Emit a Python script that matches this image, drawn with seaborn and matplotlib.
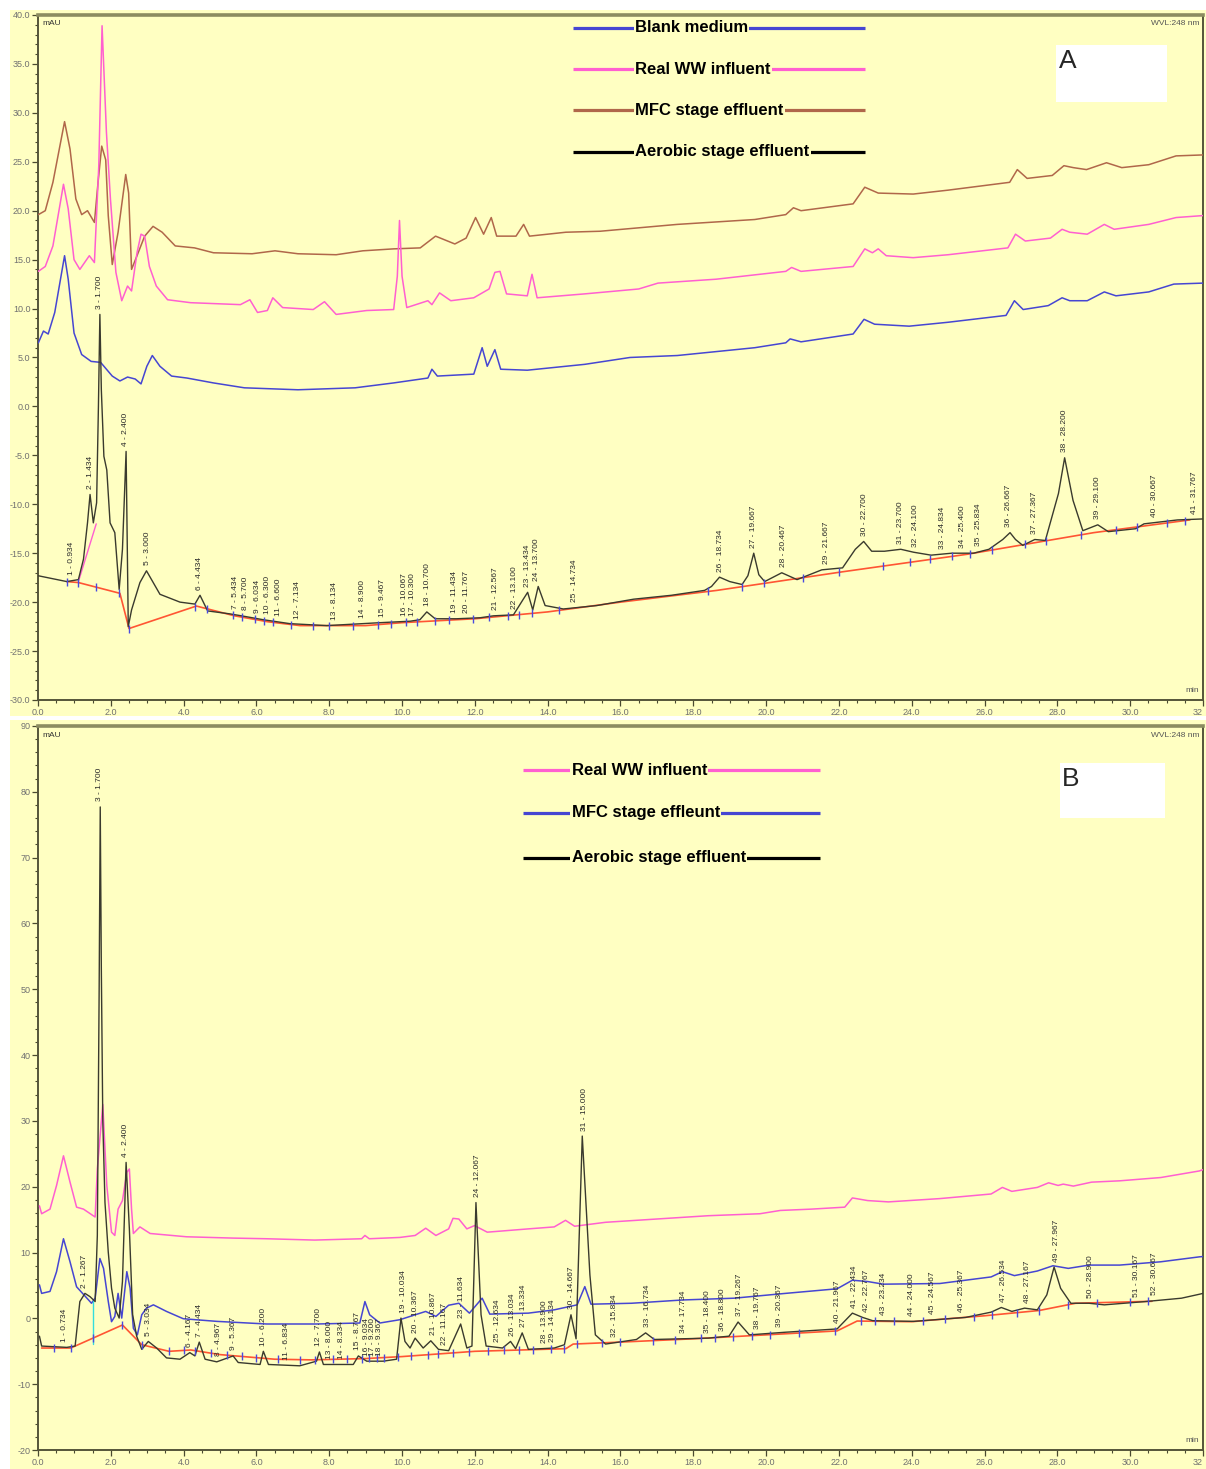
import numpy as np
import pandas as pd
import matplotlib
matplotlib.use("Agg")
import matplotlib.pyplot as plt
from matplotlib.patches import Rectangle
from matplotlib.ticker import MultipleLocator
import seaborn as sns

sns.set_theme(style="ticks")
plt.rcParams['font.family'] = ['Liberation Sans', 'DejaVu Sans']

YELLOW = "#FFFFC2"
BLUE = "#4646D2"
PINK = "#FF5FD0"
BROWN = "#B0674A"
BLACK = "#3A3A2E"
RED = "#FF5533"

# ---------------- panel A : (time min, mAU) ----------------
a_blank = [(0.01, 6.5), (0.15, 7.7), (0.28, 7.4), (0.46, 9.6), (0.73, 15.4), (0.83, 13.0), (0.99, 7.5),
           (1.2, 5.3), (1.46, 4.6), (1.72, 4.5), (1.88, 3.8), (2.04, 3.1), (2.25, 2.6), (2.46, 3.0),
           (2.67, 2.8), (2.83, 2.3), (2.99, 4.1), (3.14, 5.2), (3.35, 4.1), (3.67, 3.1), (4.09, 2.9),
           (4.82, 2.4), (5.67, 1.9), (7.14, 1.7), (8.71, 1.9), (9.77, 2.4), (10.71, 2.9), (10.82, 3.8),
           (10.97, 3.1), (11.97, 3.3), (12.2, 6.0), (12.34, 4.1), (12.55, 5.8), (12.71, 3.8), (13.44, 3.7),
           (15.02, 4.3), (16.26, 5.0), (17.56, 5.2), (19.69, 6.0), (20.54, 6.5), (20.66, 6.9), (20.96, 6.6),
           (22.39, 7.4), (22.69, 8.9), (22.98, 8.4), (23.93, 8.2), (25.0, 8.6), (26.59, 9.3), (26.82, 10.8),
           (27.06, 9.9), (27.75, 10.3), (28.13, 11.1), (28.34, 10.8), (28.82, 10.8), (29.29, 11.7),
           (29.61, 11.3), (30.51, 11.7), (31.2, 12.5), (32.0, 12.6)]

a_influent = [(0.01, 13.8), (0.2, 14.3), (0.41, 16.4), (0.7, 22.7), (0.83, 20.2), (0.99, 15.0), (1.15, 14.0),
              (1.41, 15.4), (1.55, 14.7), (1.67, 24.6), (1.76, 38.9), (1.88, 28.0), (1.99, 21.2), (2.14, 13.7),
              (2.3, 10.8), (2.46, 12.3), (2.57, 11.8), (2.72, 15.7), (2.83, 17.6), (2.93, 17.4), (3.06, 14.3),
              (3.25, 12.3), (3.56, 10.9), (4.19, 10.6), (5.56, 10.4), (5.82, 10.9), (6.03, 9.6), (6.3, 9.8),
              (6.45, 11.1), (6.72, 10.1), (7.56, 9.9), (7.87, 10.7), (8.19, 9.4), (9.03, 9.8), (9.77, 9.9),
              (9.87, 13.3), (9.93, 19.0), (10.0, 13.3), (10.13, 10.1), (10.71, 10.8), (10.82, 10.4),
              (11.03, 11.6), (11.34, 10.8), (11.97, 11.1), (12.39, 12.0), (12.55, 13.7), (12.69, 13.8),
              (12.87, 11.5), (13.44, 11.3), (13.57, 13.5), (13.71, 11.1), (15.02, 11.5), (16.5, 12.0),
              (17.03, 12.6), (18.63, 13.0), (20.54, 13.8), (20.7, 14.2), (20.96, 13.8), (22.39, 14.3),
              (22.71, 16.1), (22.92, 15.7), (23.08, 16.1), (23.3, 15.4), (24.04, 15.2), (25.0, 15.5),
              (26.64, 16.2), (26.85, 17.6), (27.12, 16.9), (27.81, 17.2), (28.13, 18.1), (28.34, 17.8),
              (28.82, 17.6), (29.29, 18.6), (29.56, 18.1), (30.51, 18.6), (31.26, 19.3), (32.0, 19.5)]

a_mfc = [(0.01, 19.6), (0.2, 20.0), (0.41, 22.9), (0.73, 29.1), (0.88, 26.3), (1.04, 21.2), (1.2, 19.6),
         (1.36, 20.0), (1.55, 18.8), (1.65, 22.9), (1.75, 26.6), (1.86, 25.2), (1.93, 19.5), (2.04, 14.5),
         (2.2, 17.8), (2.41, 23.7), (2.49, 21.8), (2.57, 14.0), (2.72, 15.4), (2.93, 17.4), (3.16, 18.4),
         (3.41, 17.8), (3.77, 16.4), (4.3, 16.2), (4.82, 15.7), (5.88, 15.6), (6.51, 15.9), (7.14, 15.6),
         (8.19, 15.5), (8.92, 15.9), (9.77, 16.1), (10.5, 16.2), (10.92, 17.4), (11.45, 16.6), (11.76, 17.2),
         (12.02, 19.3), (12.24, 17.6), (12.45, 19.3), (12.6, 17.4), (13.13, 17.4), (13.34, 18.6), (13.5, 17.4),
         (14.5, 17.8), (15.44, 17.9), (17.56, 18.6), (19.69, 19.1), (20.54, 19.6), (20.75, 20.3), (20.96, 20.0),
         (22.39, 20.7), (22.71, 22.4), (23.08, 21.8), (24.04, 21.7), (25.0, 22.1), (26.69, 22.9), (26.9, 24.2),
         (27.17, 23.3), (27.86, 23.6), (28.18, 24.6), (28.44, 24.4), (28.8, 24.2), (29.35, 24.9), (29.77, 24.4),
         (30.51, 24.7), (31.26, 25.6), (32.0, 25.7)]

a_aerobic = [(0.0, -17.3), (0.79, -17.9), (1.11, -17.7), (1.25, -15.6), (1.36, -11.9), (1.43, -9.0), (1.52, -11.9),
             (1.61, -9.85), (1.66, 0.0), (1.7, 9.4), (1.74, 1.7), (1.81, -5.1), (1.89, -6.5), (1.98, -11.9),
             (2.11, -12.9), (2.23, -18.7), (2.32, -14.6), (2.42, -4.6), (2.48, -22.5), (2.57, -20.8), (2.8, -18.0),
             (2.98, -16.8), (3.35, -19.2), (3.9, -20.0), (4.31, -20.2), (4.45, -19.3), (4.66, -20.9), (5.27, -21.2),
             (5.59, -21.4), (6.19, -21.8), (6.92, -22.2), (7.93, -22.4), (9.4, -22.1), (10.22, -21.95),
             (10.49, -21.8), (10.68, -21.0), (10.91, -21.7), (11.5, -21.7), (12.14, -21.6), (12.51, -21.4),
             (13.06, -21.3), (13.33, -19.7), (13.45, -19.0), (13.59, -20.8), (13.74, -18.4), (13.93, -20.35),
             (14.43, -20.7), (15.35, -20.35), (16.36, -19.7), (17.4, -19.3), (18.31, -18.8), (18.5, -18.4),
             (18.72, -17.45), (19.0, -17.9), (19.34, -18.2), (19.5, -17.3), (19.66, -15.0), (19.8, -17.2),
             (19.96, -17.9), (20.43, -17.0), (20.85, -17.7), (21.53, -16.7), (22.1, -16.5), (22.45, -14.6),
             (22.68, -13.8), (22.9, -14.8), (23.25, -14.8), (23.7, -14.6), (24.05, -14.9), (24.53, -15.2),
             (25.1, -15.0), (25.7, -15.0), (26.12, -14.6), (26.5, -13.6), (26.7, -12.9), (26.85, -13.6),
             (27.05, -14.2), (27.38, -13.6), (27.67, -13.7), (28.03, -8.9), (28.2, -5.25), (28.43, -9.6),
             (28.7, -12.7), (29.11, -12.1), (29.4, -12.8), (30.15, -12.5), (30.38, -12.0), (31.3, -11.6),
             (32.0, -11.5)]

a_baseline = [(0.79, -17.9), (1.11, -18.0), (2.25, -19.1), (2.5, -22.7), (4.35, -20.4), (5.4, -21.4),
              (6.3, -22.0), (7.2, -22.4), (9.0, -22.4), (10.0, -22.1), (12.0, -21.7), (14.0, -21.0),
              (16.0, -20.0), (18.65, -18.8), (22.1, -16.9), (25.54, -15.1), (29.0, -12.9), (31.64, -11.6)]
a_skim = [(1.11, -17.9), (1.6, -12.0)]

a_peak_times = [0.934, 1.434, 1.700, 2.400, 3.000, 4.434, 5.434, 5.700, 6.034, 6.300, 6.600, 7.134, 8.134,
                8.900, 9.467, 10.067, 10.300, 10.700, 11.434, 11.767, 12.567, 13.100, 13.434, 13.700, 14.734,
                18.734, 19.667, 20.467, 21.667, 22.700, 23.700, 24.100, 24.834, 25.400, 25.834, 26.667,
                27.367, 28.200, 29.100, 30.667, 31.767]
a_marks = [0.79, 1.11, 1.6, 2.23, 2.5, 4.3, 4.65, 5.35, 5.6, 5.95, 6.2, 6.45, 6.95, 7.55, 8.0, 8.65, 9.35,
           9.7, 10.1, 10.4, 10.9, 11.3, 11.95, 12.4, 12.9, 13.2, 13.58, 14.3, 18.4, 19.35, 19.95, 21.0,
           22.0, 23.2, 23.95, 24.5, 25.1, 25.6, 26.2, 27.1, 27.7, 28.65, 29.6, 30.2, 31.0, 31.5]

# ---------------- panel B ----------------
b_influent = [(0.04, 17.1), (0.1, 15.9), (0.33, 16.6), (0.51, 20.2), (0.7, 24.7), (0.88, 20.7), (1.06, 16.9),
              (1.25, 16.6), (1.57, 15.4), (1.63, 22.7), (1.78, 32.5), (1.89, 20.2), (2.02, 13.1), (2.11, 12.6),
              (2.2, 16.6), (2.32, 17.9), (2.44, 22.2), (2.51, 22.7), (2.57, 16.6), (2.62, 12.9), (2.8, 13.9),
              (3.08, 12.9), (4.08, 12.4), (5.36, 12.2), (6.28, 12.1), (7.6, 11.9), (8.89, 12.1), (8.98, 12.6),
              (9.1, 12.1), (9.94, 12.3), (10.36, 12.6), (10.65, 13.7), (10.93, 12.6), (11.28, 13.6), (11.4, 15.2),
              (11.56, 15.1), (11.78, 13.6), (11.99, 14.1), (12.34, 13.1), (13.47, 13.6), (14.18, 13.9),
              (14.49, 14.9), (14.74, 14.0), (15.59, 14.6), (17.0, 15.1), (18.41, 15.6), (19.83, 15.9),
              (20.39, 16.4), (21.24, 16.6), (22.16, 16.9), (22.37, 18.3), (22.79, 17.9), (23.36, 17.7),
              (24.77, 18.2), (26.18, 18.9), (26.49, 19.9), (26.75, 19.3), (27.45, 19.9), (27.76, 20.6),
              (28.02, 20.2), (28.16, 20.4), (28.44, 20.1), (28.94, 20.7), (29.71, 20.9), (30.84, 21.4),
              (31.9, 22.4), (32.0, 22.6)]

b_mfc = [(0.04, 5.1), (0.1, 3.8), (0.33, 4.1), (0.51, 7.1), (0.7, 12.1), (0.88, 8.6), (1.06, 4.8), (1.34, 3.1),
         (1.47, 2.3), (1.57, 3.1), (1.7, 9.1), (1.8, 7.6), (1.93, 2.6), (2.02, -0.5), (2.11, 0.3), (2.2, 3.8),
         (2.3, 0.05), (2.44, 7.1), (2.53, 4.6), (2.62, -1.5), (2.73, -2.5), (2.85, 0.55), (2.98, 1.56),
         (3.17, 2.06), (3.53, 1.06), (3.99, -0.05), (4.91, -0.45), (6.28, -0.85), (7.65, -0.85), (8.84, -0.7),
         (8.98, 2.56), (9.11, 0.55), (9.39, -0.7), (9.94, -0.2), (10.36, 0.55), (10.65, 1.06), (10.93, 0.3),
         (11.28, 2.0), (11.56, 2.3), (11.85, 0.8), (12.2, 3.07), (12.41, 0.65), (13.47, 0.8), (14.18, 1.3),
         (14.81, 2.06), (15.02, 4.83), (15.19, 2.16), (16.3, 2.3), (17.71, 2.8), (19.12, 3.07), (20.53, 3.8),
         (21.95, 4.5), (22.37, 5.8), (22.79, 5.6), (23.22, 5.2), (24.77, 5.3), (26.18, 6.3), (26.49, 7.1),
         (26.82, 6.5), (27.45, 7.2), (27.88, 8.0), (28.3, 7.6), (28.87, 8.1), (29.71, 8.1), (30.84, 8.6),
         (31.9, 9.35), (32.0, 9.4)]

b_aerobic = [(0.04, -2.7), (0.1, -4.2), (0.79, -4.4), (1.02, -4.2), (1.15, 2.56), (1.29, 3.8), (1.43, 3.3),
             (1.57, 2.56), (1.63, 12.6), (1.68, 50.0), (1.71, 77.7), (1.74, 53.0), (1.78, 30.0), (1.84, 17.6),
             (1.93, 10.1), (2.02, 4.6), (2.11, 1.56), (2.23, 0.05), (2.32, 5.6), (2.42, 23.7), (2.51, 13.6),
             (2.6, 0.55), (2.71, -2.7), (2.85, -4.7), (3.03, -3.5), (3.26, -4.5), (3.53, -6.0), (3.9, -6.2),
             (4.17, -5.2), (4.31, -5.7), (4.43, -3.6), (4.59, -6.2), (4.91, -6.6), (5.36, -5.7), (5.5, -6.7),
             (6.1, -7.0), (6.19, -5.0), (6.33, -7.0), (7.19, -7.2), (7.65, -6.5), (7.73, -5.1), (7.84, -7.0),
             (8.66, -7.0), (8.8, -5.7), (9.03, -6.5), (9.48, -6.5), (9.85, -6.2), (9.97, 0.05), (10.08, -3.5),
             (10.22, -4.5), (10.36, -3.0), (10.58, -4.5), (10.79, -3.4), (11.0, -4.7), (11.28, -4.9),
             (11.61, -0.85), (11.78, -4.5), (11.92, -4.2), (12.03, 17.6), (12.17, 0.55), (12.31, -4.2),
             (12.76, -4.5), (12.98, -3.5), (13.12, -4.6), (13.3, -2.2), (13.47, -4.7), (14.18, -4.5),
             (14.46, -4.0), (14.64, 0.55), (14.78, -3.1), (14.95, 27.7), (15.16, 6.6), (15.31, -2.5),
             (15.59, -3.9), (16.44, -3.2), (16.69, -2.2), (16.93, -3.2), (18.41, -3.0), (18.98, -2.7),
             (19.23, -0.55), (19.54, -2.5), (20.53, -2.1), (21.95, -1.6), (22.37, 0.8), (22.65, 0.15),
             (22.93, -0.35), (24.06, -0.45), (25.48, 0.15), (26.18, 0.95), (26.46, 1.66), (26.75, 1.06),
             (27.1, 1.56), (27.45, 1.3), (27.71, 3.57), (27.91, 7.8), (28.09, 4.57), (28.37, 2.3), (28.87, 2.3),
             (29.29, 2.06), (30.42, 2.56), (31.41, 3.07), (31.9, 3.67), (32.0, 3.8)]

b_baseline = [(0.1, -4.5), (0.9, -4.5), (2.32, -1.0), (2.85, -4.0), (3.6, -5.0), (4.2, -4.8), (5.0, -5.5),
              (6.5, -6.2), (7.5, -6.3), (9.0, -6.1), (10.0, -5.8), (12.0, -5.0), (14.5, -4.6), (14.7, -3.9),
              (16.0, -3.6), (18.0, -3.1), (20.0, -2.5), (21.95, -1.9), (22.5, -0.4), (24.0, -0.5), (26.0, 0.4),
              (27.5, 1.2), (28.5, 2.3), (30.6, 2.6)]
b_drop = [(1.5, -3.9), (1.5, 2.6)]

b_peak_times = [0.734, 1.267, 1.700, 2.400, 3.034, 4.167, 4.434, 4.967, 5.367, 6.200, 6.834, 7.700, 8.000,
                8.334, 8.767, 9.034, 9.200, 9.367, 10.034, 10.367, 10.867, 11.167, 11.634, 12.067, 12.634,
                13.034, 13.334, 13.900, 14.134, 14.667, 15.000, 15.834, 16.734, 17.734, 18.400, 18.800,
                19.267, 19.767, 20.367, 21.967, 22.434, 22.767, 23.234, 24.000, 24.567, 25.367, 26.534,
                27.167, 27.967, 28.900, 30.167, 30.667]
b_marks = [0.45, 0.9, 1.5, 2.3, 2.85, 3.6, 4.0, 4.3, 4.75, 5.2, 5.6, 6.0, 6.6, 7.2, 7.6, 8.1, 8.5, 8.9, 9.1,
           9.3, 9.5, 9.9, 10.25, 10.7, 11.0, 11.4, 11.85, 12.35, 12.8, 13.2, 13.6, 14.1, 14.45, 14.8, 15.5,
           16.0, 16.9, 17.5, 18.2, 18.6, 19.1, 19.6, 20.1, 20.9, 21.9, 22.6, 23.0, 23.5, 24.3, 24.9, 25.7,
           26.2, 26.9, 27.5, 28.3, 29.1, 30.0, 30.5]

LEG_A = [("Blank medium", BLUE), ("Real WW influent", PINK), ("MFC stage effluent", BROWN),
         ("Aerobic stage effluent", "black")]
LEG_B = [("Real WW influent", PINK), ("MFC stage effleunt", BLUE), ("Aerobic stage effluent", "black")]


def trace(ax, pts, color, lw=1.1, z=3):
    df = pd.DataFrame(pts, columns=["t", "v"])
    sns.lineplot(data=df, x="t", y="v", color=color, lw=lw, ax=ax, estimator=None, sort=False, zorder=z)
    return df


def label_peaks(ax, times, df):
    t = df["t"].to_numpy()
    v = df["v"].to_numpy()
    for i, pt in enumerate(times, start=1):
        near = np.abs(t - pt) <= 0.12
        top = v[near].max() if near.any() else np.interp(pt, t, v)
        ax.annotate(f"{i} - {pt:.3f}", (pt, top), xytext=(0, 4), textcoords="offset points",
                    rotation=90, ha="center", va="bottom", fontsize=6, color="#2a2a2a", zorder=6)


def marks(ax, times, base):
    bt, bv = zip(*base)
    y = np.interp(times, bt, bv)
    ax.plot(times, y, ls="none", marker="|", ms=6, mew=1.0, color="#4a4ae0", zorder=5)


def legend_rows(ax, rows, x0, x1, xt, ys):
    for (name, col), y in zip(rows, ys):
        ax.plot([x0, x1], [y, y], transform=ax.transAxes, color=col, lw=2.3,
                solid_capstyle="butt", zorder=7, clip_on=False)
        ax.text(xt, y, name, transform=ax.transAxes, ha="left", va="center", fontsize=12,
                fontweight="bold", color="black", zorder=8,
                bbox=dict(boxstyle="square,pad=0.08", fc=YELLOW, ec="none"))


def style_axes(ax, ylim, ymaj, ymin, fmt):
    ax.set_facecolor("none")
    ax.set_xlim(0, 32)
    ax.set_ylim(*ylim)
    ax.set_xlabel("")
    ax.set_ylabel("")
    xt = np.arange(0, 33, 2)
    ax.set_xticks(xt)
    labels = ax.set_xticklabels([f"{x:.1f}" for x in xt[:-1]] + ["32"])
    labels[-1].set_horizontalalignment("right")
    yt = np.arange(ylim[0], ylim[1] + 0.01, ymaj)
    ax.set_yticks(yt)
    ax.set_yticklabels([fmt.format(y) for y in yt])
    ax.xaxis.set_minor_locator(MultipleLocator(0.5))
    ax.yaxis.set_minor_locator(MultipleLocator(ymin))
    ax.tick_params(which="major", length=4, width=0.9, color="#4a4a30", labelsize=6.5,
                   labelcolor="#707070", pad=1.5)
    ax.tick_params(which="minor", length=2, width=0.8, color="#4a4a30")
    for s in ["left", "bottom", "right"]:
        ax.spines[s].set_color("#55553a")
        ax.spines[s].set_linewidth(1.4)
    ax.spines["top"].set_color("#8c8c60")
    ax.spines["top"].set_linewidth(2.6)
    ax.text(0.004, 0.992, "mAU", transform=ax.transAxes, fontsize=6, color="#333333", va="top")
    ax.text(0.997, 0.992, "WVL:248 nm", transform=ax.transAxes, fontsize=6, color="#555555",
            va="top", ha="right")
    ax.text(0.997, 0.008, "min", transform=ax.transAxes, fontsize=6, color="#555555",
            va="bottom", ha="right")


fig = plt.figure(figsize=(12.06, 14.69), dpi=100)
fig.patches.append(Rectangle((0.0083, 0.5126), 0.9917, 0.4806, transform=fig.transFigure,
                             fc=YELLOW, ec="none", zorder=-5))
fig.patches.append(Rectangle((0.0083, 0.0), 0.9917, 0.5098, transform=fig.transFigure,
                             fc=YELLOW, ec="none", zorder=-5))

# ---- panel A ----
axA = fig.add_axes([0.0315, 0.5235, 0.966, 0.4663])
trace(axA, a_mfc, BROWN)
trace(axA, a_influent, PINK)
trace(axA, a_blank, BLUE)
trace(axA, a_baseline, RED, lw=1.2, z=3.5)
trace(axA, a_skim, PINK, lw=1.0, z=3.5)
dA = trace(axA, a_aerobic, BLACK, lw=1.0, z=4)
marks(axA, a_marks, a_baseline)
label_peaks(axA, a_peak_times, dA)
style_axes(axA, (-30, 40), 5, 1, "{:.1f}")
legend_rows(axA, LEG_A, 0.459, 0.71, 0.5124, [0.981, 0.921, 0.861, 0.800])
axA.add_patch(Rectangle((0.874, 0.873), 0.0953, 0.083, transform=axA.transAxes,
                        fc="white", ec="none", zorder=8))
axA.text(0.876, 0.95, "A", transform=axA.transAxes, fontsize=19, va="top", ha="left", zorder=9)

# ---- panel B ----
axB = fig.add_axes([0.0315, 0.0129, 0.966, 0.4929])
trace(axB, b_influent, PINK)
trace(axB, b_mfc, BLUE)
trace(axB, b_baseline, RED, lw=1.2, z=3.5)
trace(axB, b_drop, "#33dddd", lw=1.0, z=3.5)
dB = trace(axB, b_aerobic, BLACK, lw=1.0, z=4)
marks(axB, b_marks, b_baseline)
label_peaks(axB, b_peak_times, dB)
style_axes(axB, (-20, 90), 10, 2, "{:.0f}")
legend_rows(axB, LEG_B, 0.416, 0.671, 0.458, [0.939, 0.880, 0.818])
axB.add_patch(Rectangle((0.877, 0.873), 0.090, 0.076, transform=axB.transAxes,
                        fc="white", ec="none", zorder=8))
axB.text(0.879, 0.944, "B", transform=axB.transAxes, fontsize=19, va="top", ha="left", zorder=9)

fig.savefig("out.png", dpi=100)
